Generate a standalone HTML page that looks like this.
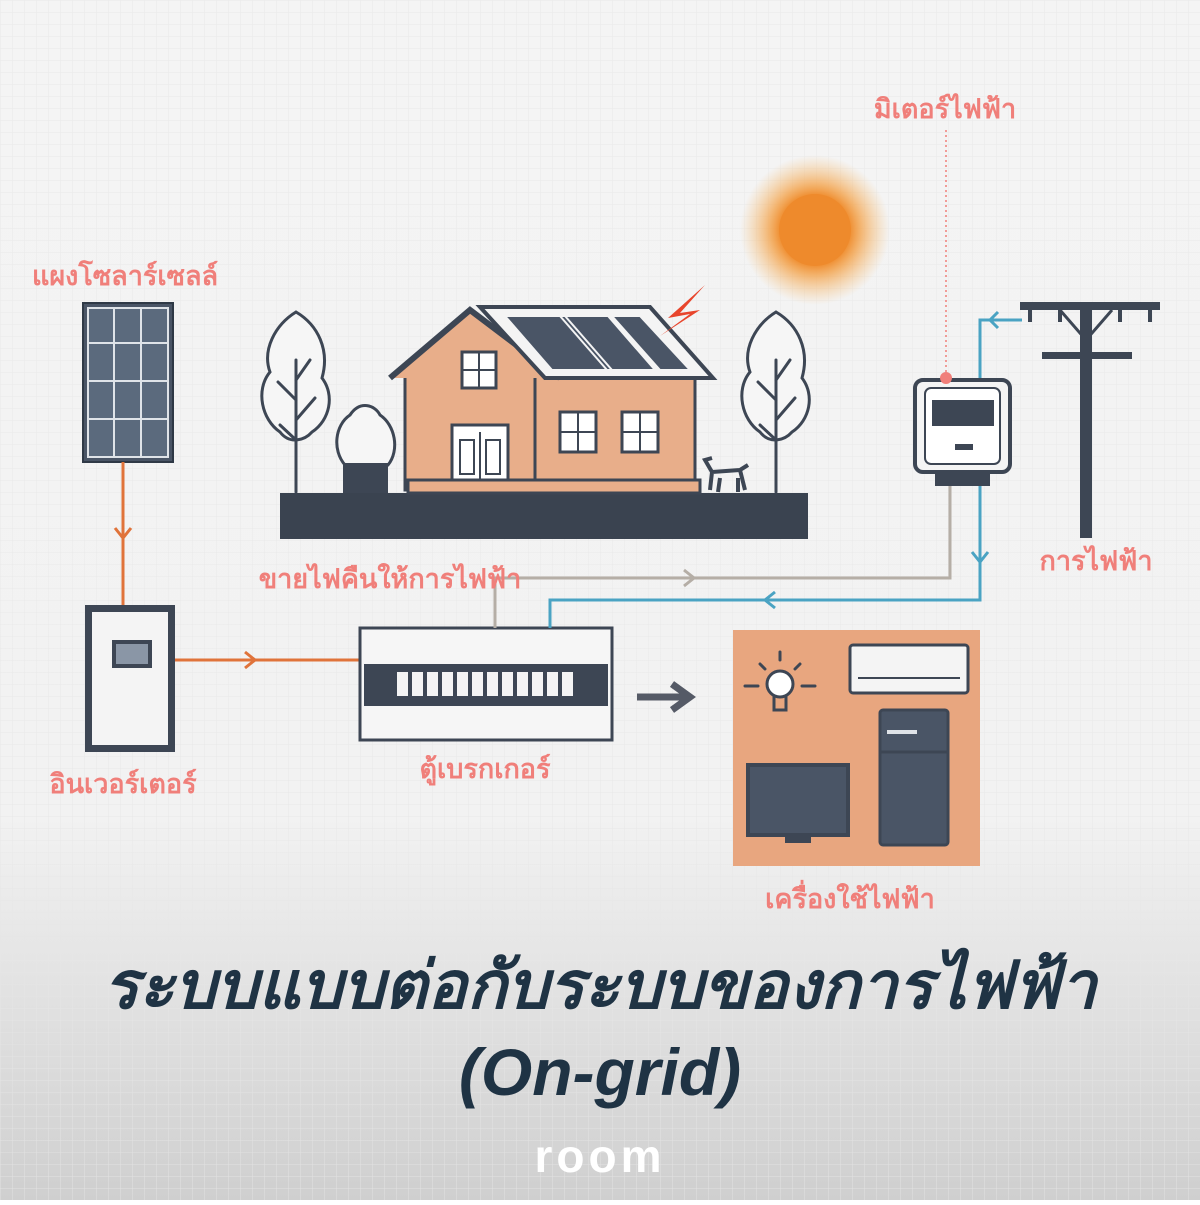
<!DOCTYPE html>
<html><head><meta charset="utf-8"><style>
html,body{margin:0;padding:0;}
body{width:1200px;height:1200px;overflow:hidden;font-family:"Liberation Sans",sans-serif;}
</style></head><body>
<svg width="1200" height="1200" viewBox="0 0 1200 1200" xmlns="http://www.w3.org/2000/svg">
<defs>
<pattern id="g" width="12" height="12" patternUnits="userSpaceOnUse"><path d="M12 0H0V12" fill="none" stroke="#e6e6e6" stroke-width="1"/></pattern>
<linearGradient id="bg" x1="0" y1="0" x2="0" y2="1"><stop offset="0" stop-color="#f4f4f4"/><stop offset="0.68" stop-color="#f2f2f2"/><stop offset="1" stop-color="#cfcfcf"/></linearGradient>
<radialGradient id="sun"><stop offset="0.45" stop-color="#ef8a2a"/><stop offset="0.6" stop-color="#f3a24a" stop-opacity="0.8"/><stop offset="1" stop-color="#f7c27a" stop-opacity="0"/></radialGradient>
</defs>
<rect width="1200" height="1200" fill="url(#bg)"/>
<rect width="1200" height="1200" fill="url(#g)" opacity="0.8"/>

<circle cx="815" cy="230" r="75" fill="url(#sun)"/>
<circle cx="815" cy="230" r="36" fill="#ee8a2c"/>

<rect x="83" y="303" width="90" height="159" fill="#4a5566" stroke="#2f3946" stroke-width="2"/>
<g fill="#5b6a7d" stroke="#dfe3e8" stroke-width="2">
<rect x="88" y="308" width="26" height="35"/><rect x="114" y="308" width="27" height="35"/><rect x="141" y="308" width="27" height="35"/>
<rect x="88" y="343" width="26" height="38"/><rect x="114" y="343" width="27" height="38"/><rect x="141" y="343" width="27" height="38"/>
<rect x="88" y="381" width="26" height="38"/><rect x="114" y="381" width="27" height="38"/><rect x="141" y="381" width="27" height="38"/>
<rect x="88" y="419" width="26" height="38"/><rect x="114" y="419" width="27" height="38"/><rect x="141" y="419" width="27" height="38"/>
</g>
<line x1="123" y1="462" x2="123" y2="605" stroke="#e0733a" stroke-width="3"/>
<path d="M115 528 L123 538 L131 528" fill="none" stroke="#e0733a" stroke-width="3"/>

<rect x="85" y="605" width="90" height="147" fill="#3d4654"/>
<rect x="92" y="612" width="76" height="133" fill="#f4f4f4"/>
<rect x="112" y="640" width="40" height="28" fill="#3d4654"/>
<rect x="116" y="644" width="32" height="20" fill="#8a96a6"/>
<line x1="175" y1="660" x2="360" y2="660" stroke="#e0733a" stroke-width="3"/>
<path d="M245 652 L255 660 L245 668" fill="none" stroke="#e0733a" stroke-width="3"/>

<rect x="360" y="628" width="252" height="112" fill="#f6f6f6" stroke="#3d4654" stroke-width="3"/>
<rect x="364" y="664" width="244" height="42" fill="#3d4654"/>
<g fill="#f4f4f4">
<rect x="397" y="672" width="11" height="24"/><rect x="412" y="672" width="11" height="24"/><rect x="427" y="672" width="11" height="24"/><rect x="442" y="672" width="11" height="24"/><rect x="457" y="672" width="11" height="24"/><rect x="472" y="672" width="11" height="24"/><rect x="487" y="672" width="11" height="24"/><rect x="502" y="672" width="11" height="24"/><rect x="517" y="672" width="11" height="24"/><rect x="532" y="672" width="11" height="24"/><rect x="547" y="672" width="11" height="24"/><rect x="562" y="672" width="11" height="24"/>
</g>
<path d="M637 697 H690 M672 684 L690 697 L672 710" fill="none" stroke="#555a66" stroke-width="7"/>

<polyline points="950,485 950,578 495,578 495,628" fill="none" stroke="#b5aea6" stroke-width="3"/>
<path d="M684 570 L694 578 L684 586" fill="none" stroke="#b5aea6" stroke-width="3"/>
<polyline points="1022,320 980,320 980,600 550,600 550,628" fill="none" stroke="#4aa3c3" stroke-width="3"/>
<path d="M972 552 L980 562 L988 552" fill="none" stroke="#4aa3c3" stroke-width="3"/>
<path d="M998 312 L990 320 L998 328" fill="none" stroke="#4aa3c3" stroke-width="3"/>
<path d="M775 592 L765 600 L775 608" fill="none" stroke="#4aa3c3" stroke-width="3"/>
<line x1="946" y1="130" x2="946" y2="378" stroke="#f07f7a" stroke-width="1.5" stroke-dasharray="2 3"/>

<rect x="915" y="380" width="95" height="92" rx="8" fill="#f4f4f4" stroke="#3d4654" stroke-width="4"/>
<rect x="925" y="388" width="75" height="76" rx="6" fill="#fff" stroke="#3d4654" stroke-width="2"/>
<rect x="932" y="400" width="62" height="26" fill="#3d4654"/>
<rect x="955" y="444" width="18" height="6" fill="#3d4654"/>
<rect x="935" y="472" width="55" height="14" fill="#3d4654"/>
<circle cx="946" cy="378" r="6" fill="#f07f7a"/>

<rect x="1080" y="302" width="12" height="236" fill="#3d4654"/>
<rect x="1020" y="302" width="140" height="8" fill="#3d4654"/>
<rect x="1042" y="352" width="90" height="7" fill="#3d4654"/>
<g fill="#3d4654"><rect x="1028" y="310" width="4" height="12"/><rect x="1058" y="310" width="4" height="12"/><rect x="1118" y="310" width="4" height="12"/><rect x="1148" y="310" width="4" height="12"/></g>
<path d="M1060 310 L1086 340 L1112 310" fill="none" stroke="#3d4654" stroke-width="3"/>

<rect x="280" y="493" width="528" height="46" fill="#3a4350"/>
<g fill="none" stroke="#3d4654" stroke-width="3" stroke-linecap="round">
<path d="M296 312 C275 325 262 350 270 372 C255 390 262 420 280 432 C290 445 305 440 312 432 C330 420 335 395 322 378 C330 350 318 325 296 312Z" fill="#f6f6f6"/>
<path d="M296 492 V360 M296 400 L278 382 M296 420 L315 398 M296 380 L310 360 M296 440 L280 425"/>
<path d="M776 312 C755 325 742 350 750 372 C735 390 742 420 760 432 C770 445 785 440 792 432 C810 420 815 395 802 378 C810 350 798 325 776 312Z" fill="#f6f6f6"/>
<path d="M776 492 V360 M776 400 L758 382 M776 420 L795 398 M776 380 L790 360 M776 440 L760 425"/>
<path d="M350 415 C335 425 332 450 345 465 L388 465 C400 450 395 425 380 415 C375 405 360 400 350 415Z" fill="#f6f6f6"/>
</g>
<rect x="343" y="463" width="45" height="30" fill="#3d4654"/>
<rect x="405" y="375" width="290" height="115" fill="#e8ae8a" stroke="#3d4654" stroke-width="3"/>
<line x1="535" y1="375" x2="535" y2="490" stroke="#3d4654" stroke-width="3"/>
<path d="M390 378 L470 310 L560 378" fill="#e8ae8a" stroke="#3d4654" stroke-width="6"/>
<path d="M480 307 L650 307 L713 378 L545 378 Z" fill="#f4f4f4" stroke="#3d4654" stroke-width="4"/>
<path d="M505 316 L565 316 L612 370 L552 370Z M560 316 L608 316 L655 370 L607 370Z M612 316 L640 316 L690 370 L660 370Z" fill="#4a5566" stroke="#f4f4f4" stroke-width="2"/>
<g fill="#fff" stroke="#3d4654" stroke-width="3">
<rect x="462" y="352" width="34" height="36"/><rect x="560" y="412" width="36" height="40"/><rect x="622" y="412" width="36" height="40"/>
<rect x="452" y="425" width="56" height="55"/>
</g>
<g stroke="#3d4654" stroke-width="2"><line x1="479" y1="352" x2="479" y2="388"/><line x1="462" y1="370" x2="496" y2="370"/><line x1="578" y1="412" x2="578" y2="452"/><line x1="560" y1="432" x2="596" y2="432"/><line x1="640" y1="412" x2="640" y2="452"/><line x1="622" y1="432" x2="658" y2="432"/><line x1="480" y1="432" x2="480" y2="480"/><rect x="460" y="440" width="14" height="34" fill="none"/><rect x="486" y="440" width="14" height="34" fill="none"/></g>
<rect x="408" y="480" width="292" height="13" fill="#e8ae8a" stroke="#3d4654" stroke-width="3"/>
<path d="M705 285 L668 318 L690 314 L660 336 L700 310 L680 313 Z" fill="#e8452c"/>
<path d="M712 472 L740 470 L745 490 M712 472 L710 490 M720 478 L718 492 M738 478 L738 492 M712 472 L705 460 L712 458 M740 470 L748 465" fill="none" stroke="#3d4654" stroke-width="4"/>

<rect x="733" y="630" width="247" height="236" fill="#e8a67f"/>
<g fill="none" stroke="#3d4654" stroke-width="3" stroke-linecap="round">
<circle cx="780" cy="684" r="13" fill="#fff"/><path d="M774 696 V710 H786 V696"/>
<path d="M745 686 H758 M802 686 H815 M760 664 L765 669 M800 664 L795 669 M780 652 V660"/>
</g>
<rect x="850" y="645" width="118" height="48" rx="3" fill="#f4f4f4" stroke="#3d4654" stroke-width="3"/>
<line x1="858" y1="678" x2="960" y2="678" stroke="#3d4654" stroke-width="2"/>
<rect x="880" y="710" width="68" height="135" rx="3" fill="#4a5566" stroke="#3d4654" stroke-width="3"/>
<line x1="880" y1="752" x2="948" y2="752" stroke="#3d4654" stroke-width="3"/>
<rect x="887" y="730" width="30" height="4" fill="#dfe3e8"/>
<rect x="748" y="765" width="100" height="70" fill="#4a5566" stroke="#3d4654" stroke-width="4"/>
<rect x="785" y="835" width="26" height="8" fill="#3d4654"/>

<g font-family="'Liberation Sans',sans-serif" font-size="27" font-weight="bold" fill="#f07f7a" text-anchor="middle">
<text x="125" y="285">แผงโซลาร์เซลล์</text>
<text x="123" y="793">อินเวอร์เตอร์</text>
<text x="390" y="588">ขายไฟคืนให้การไฟฟ้า</text>
<text x="485" y="778">ตู้เบรกเกอร์</text>
<text x="945" y="118">มิเตอร์ไฟฟ้า</text>
<text x="1096" y="570">การไฟฟ้า</text>
<text x="850" y="908">เครื่องใช้ไฟฟ้า</text>
</g>
<g font-family="'Liberation Sans',sans-serif" font-size="66" font-weight="bold" fill="#1f3344" text-anchor="middle" font-style="italic">
<text x="600" y="1008">ระบบแบบต่อกับระบบของการไฟฟ้า</text>
<text x="600" y="1095">(On-grid)</text>
</g>
<text x="600" y="1172" font-family="'Liberation Sans',sans-serif" font-size="46" font-weight="bold" fill="#fff" text-anchor="middle" letter-spacing="4">room</text>
</svg>
</body></html>
